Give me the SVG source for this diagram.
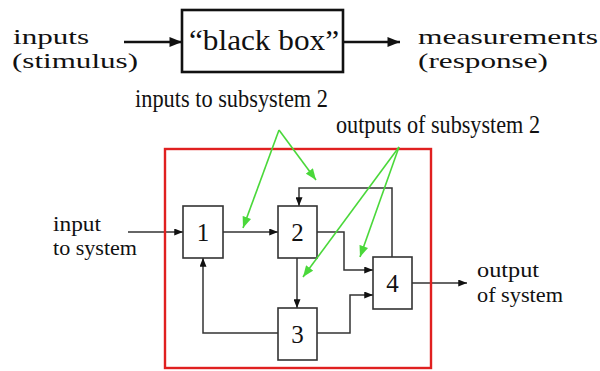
<svg xmlns="http://www.w3.org/2000/svg" width="600" height="371" viewBox="0 0 600 371">
<defs>
<style>
.t{font-family:"Liberation Serif","Times New Roman",serif;fill:#111}
.big{font-size:29px}
.top{font-size:22px}
.mid{font-size:25px}
.sm{font-size:21px}
.box{fill:#fff;stroke:#333;stroke-width:1.6}
.con{fill:none;stroke:#333;stroke-width:1.5}
.grn{fill:none;stroke:#4ad83a;stroke-width:1.6}
</style>
<marker id="ab" viewBox="0 0 10 8" refX="10" refY="4" markerWidth="10" markerHeight="7" markerUnits="userSpaceOnUse" orient="auto"><path d="M0,0 L10,4 L0,8 z" fill="#111"/></marker>
<marker id="abig" viewBox="0 0 10 8" refX="10" refY="4" markerWidth="15" markerHeight="10" markerUnits="userSpaceOnUse" orient="auto"><path d="M0,0 L10,4 L0,8 z" fill="#111"/></marker>
<marker id="ag" viewBox="0 0 10 8" refX="10" refY="4" markerWidth="12" markerHeight="9" markerUnits="userSpaceOnUse" orient="auto"><path d="M0,0 L10,4 L0,8 z" fill="#4ad83a"/></marker>
</defs>
<rect width="600" height="371" fill="#fff"/>

<g id="connectors">
<path d="M124,42 H182" fill="none" stroke="#111" stroke-width="2.6" marker-end="url(#abig)"/>
<path d="M343,42 H400" fill="none" stroke="#111" stroke-width="2.6" marker-end="url(#abig)"/>
<path class="con" d="M128,232 H183" marker-end="url(#ab)"/>
<path class="con" d="M223,232 H278" marker-end="url(#ab)"/>
<path class="con" d="M392,257 V188 H299 V206" marker-end="url(#ab)"/>
<path class="con" d="M317,232 H344 V270 H373" marker-end="url(#ab)"/>
<path class="con" d="M297,258 V308" marker-end="url(#ab)"/>
<path class="con" d="M317,333 H350 V295 H373" marker-end="url(#ab)"/>
<path class="con" d="M278,333 H203 V258" marker-end="url(#ab)"/>
<path class="con" d="M412,283 H467" marker-end="url(#ab)"/>
</g>

<g id="system">
<rect x="165" y="149" width="266" height="219" fill="none" stroke="#e02020" stroke-width="2.4"/>
</g>

<g id="blackbox">
<rect x="182" y="10" width="161" height="62" fill="#fff" stroke="#111" stroke-width="2.6"/>
<text class="t big" x="189" y="50" textLength="150" lengthAdjust="spacingAndGlyphs">“black box”</text>
</g>

<g id="inputs-label">
<text class="t top" x="13" y="44" textLength="76" lengthAdjust="spacingAndGlyphs">inputs</text>
<text class="t top" x="12" y="68" textLength="126" lengthAdjust="spacingAndGlyphs">(stimulus)</text>
</g>
<g id="measurements-label">
<text class="t top" x="418" y="44" textLength="180" lengthAdjust="spacingAndGlyphs">measurements</text>
<text class="t top" x="418" y="68" textLength="130" lengthAdjust="spacingAndGlyphs">(response)</text>
</g>

<g id="n1"><rect class="box" x="183" y="206" width="40" height="52"/><text class="t mid" x="203" y="241" text-anchor="middle">1</text></g>
<g id="n2"><rect class="box" x="278" y="206" width="39" height="52"/><text class="t mid" x="297.5" y="241" text-anchor="middle">2</text></g>
<g id="n3"><rect class="box" x="278" y="308" width="39" height="52"/><text class="t mid" x="297.5" y="343" text-anchor="middle">3</text></g>
<g id="n4"><rect class="box" x="373" y="257" width="39" height="52"/><text class="t mid" x="392.5" y="292" text-anchor="middle">4</text></g>

<g id="input-label">
<text class="t sm" x="53" y="231" textLength="48" lengthAdjust="spacingAndGlyphs">input</text>
<text class="t sm" x="53" y="255" textLength="84" lengthAdjust="spacingAndGlyphs">to system</text>
</g>
<g id="output-label">
<text class="t sm" x="477" y="277" textLength="62" lengthAdjust="spacingAndGlyphs">output</text>
<text class="t sm" x="477" y="302" textLength="86" lengthAdjust="spacingAndGlyphs">of system</text>
</g>

<g id="annotations">
<text class="t mid" x="135" y="107" textLength="193" lengthAdjust="spacingAndGlyphs">inputs to subsystem 2</text>
<text class="t mid" x="336" y="133" textLength="204" lengthAdjust="spacingAndGlyphs">outputs of subsystem 2</text>
<path class="grn" d="M279,130 L316,180" marker-end="url(#ag)"/>
<path class="grn" d="M279,130 L243,228" marker-end="url(#ag)"/>
<path class="grn" d="M399,147 L303,277" marker-end="url(#ag)"/>
<path class="grn" d="M399,147 L360,257" marker-end="url(#ag)"/>
</g>
</svg>
